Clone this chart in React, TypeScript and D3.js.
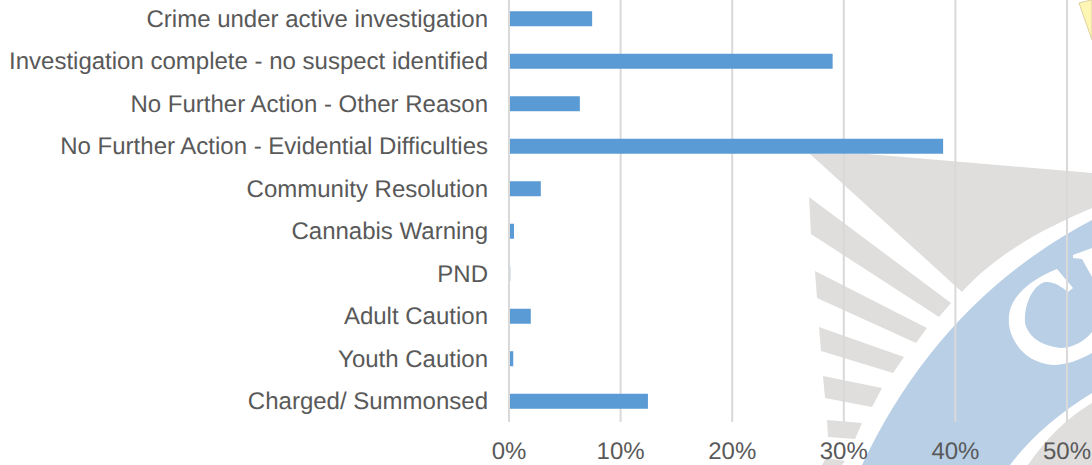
import React from "react";
import * as d3 from "d3";

const categories = [
  "Crime under active investigation",
  "Investigation complete - no suspect identified",
  "No Further Action - Other Reason",
  "No Further Action - Evidential Difficulties",
  "Community Resolution",
  "Cannabis Warning",
  "PND",
  "Adult Caution",
  "Youth Caution",
  "Charged/ Summonsed",
];
const values = [7.45, 29.0, 6.35, 38.9, 2.85, 0.45, 0.15, 1.95, 0.38, 12.45];
const ticks = [0, 10, 20, 30, 40, 50];

const greyWedge = "M810,154 L868,154 L1092,173 L1092,208 C1050,226 1000,250 962,292 Z";
const greyRays = [
  "809,197 811,234 939,317 951,303",
  "815,271 817,298 916,343 927,328",
  "819,327 821,351 893,373 904,357",
  "823,376 825,398 872,407 882,388",
  "827,420 828,437 855,439 862,423",
  "822,465 826,458 845,461 842,465",
];
const blueRing = "M1092,220 Q940,300 862,465 L1010,465 Q1040,425 1092,393 Z";
const innerGrey = "M1092,403 Q1055,425 1028,465 L1092,465 Z";
const letterC =
  "M1057,269 L1073,288 L1068,292 C1062,287 1054,281 1045,282 C1032,286 1024,305 1025,323 C1028,335 1038,345 1060,348 C1072,348 1084,342 1092,332 L1092,353 C1080,360 1066,365 1053,365 C1035,363 1022,355 1014,340 C1008,330 1008,318 1010,310 C1014,295 1030,280 1057,269 Z";
const letterNext = "M1073,255 L1092,248 L1092,277 L1082,259 L1073,258 Z";

export default function App() {
  const x = d3.scaleLinear().domain([0, 50]).range([509, 1067]);
  const y = d3.scaleBand().domain(categories).range([-2.5, 422.5]);
  const bh = 15;
  return (
    <svg width={1092} height={465} style={{ position: "absolute", left: 0, top: 0, background: "#fff" }} fontFamily="'Liberation Sans', Arial, sans-serif" textRendering="geometricPrecision">
      <g>
        <path d={greyWedge} fill="#dfdedd" />
        {greyRays.map((p, i) => <polygon key={i} points={p} fill="#dfdedd" />)}
        <path d={blueRing} fill="#b8cfe6" />
        <path d={innerGrey} fill="#dfdedd" />
        <path d={letterC} fill="#fff" />
        <path d={letterNext} fill="#fff" />
        <polygon points="1079,3 1091,0 1092,0 1092,40" fill="#fdf6b4" stroke="#ddd0a0" strokeWidth={1} />
      </g>
      {ticks.map((t) => (
        <line key={t} x1={x(t)} x2={x(t)} y1={0} y2={422} stroke="#d9d9d9" strokeWidth={2} />
      ))}
      {categories.map((c, i) => {
        const cy = y(c)! + y.bandwidth() / 2;
        return (
          <g key={c}>
            <rect x={510} y={cy - bh / 2} width={x(values[i]) - 510} height={bh} fill="#5b9bd5" opacity={values[i] < 0.2 ? 0.35 : 1} />
            <text x={488} y={cy + 8} textAnchor="end" fontSize={24} fill="#595959">{c}</text>
          </g>
        );
      })}
      {ticks.map((t) => (
        <text key={t} x={x(t)} y={459} textAnchor="middle" fontSize={24} fill="#595959">{t}%</text>
      ))}
    </svg>
  );
}
